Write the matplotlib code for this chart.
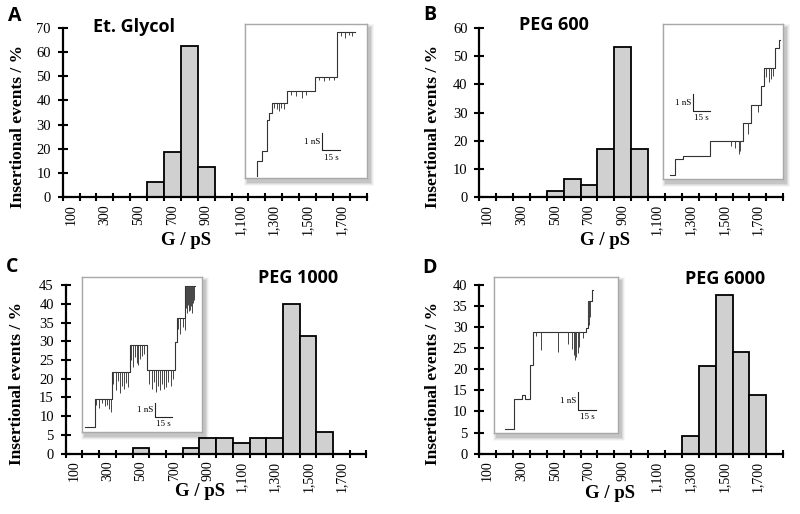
import numpy as np
import matplotlib
matplotlib.use('Agg')
import matplotlib.pyplot as plt
from matplotlib.patches import Rectangle

# conductance bins (pS)
g_bins = [100, 200, 300, 400, 500, 600, 700, 800, 900,
          1000, 1100, 1200, 1300, 1400, 1500, 1600, 1700, 1800]

# insertional events (%) per bin
events_glycol = [0, 0, 0, 0, 0, 6.3, 18.8, 62.5, 12.5,
                 0, 0, 0, 0, 0, 0, 0, 0, 0]
events_peg600 = [0, 0, 0, 0, 2.1, 6.4, 4.3, 17.0, 53.2,
                 17.0, 0, 0, 0, 0, 0, 0, 0, 0]
events_peg1000 = [0, 0, 0, 0, 1.4, 0, 0, 1.4, 4.3,
                  4.3, 2.9, 4.3, 4.3, 40.0, 31.4, 5.7, 0, 0]
events_peg6000 = [0, 0, 0, 0, 0, 0, 0, 0, 0,
                  0, 0, 0, 4.2, 20.8, 37.5, 24.0, 13.9, 0]

titles = ['Et. Glycol', 'PEG 600', 'PEG 1000', 'PEG 6000']
letters = ['A', 'B', 'C', 'D']
ymax = [70, 60, 45, 40]
ystep = [10, 10, 5, 5]

# inset traces, in % of the inset box: step times, levels, end time
trace_t_A = [10.1, 10.1, 13.7, 17.8, 20.0, 21.9, 34.2, 57.5, 75.9]
trace_y_A = [1.1, 10.8, 17.3, 37.8, 42.1, 48.6, 56.2, 65.9, 95.0]
trace_end_A = 90.4
spike_t_A = [24, 26, 28, 30, 32, 38, 42, 47, 50, 61, 65, 69, 73, 79, 82, 85, 88]
spike_d_A = [3, 4, 5, 3, 4, 2, 3, 4, 2, 2, 3, 2, 2, 3, 4, 2, 3]

trace_t_B = [5.6, 10.3, 17.0, 38.9, 66.7, 73.1, 81.4, 84.2, 93.6, 96.4]
trace_y_B = [2.8, 12.9, 14.6, 24.2, 36.1, 47.9, 59.7, 71.5, 84.3, 89.7]
trace_end_B = 97.5
spike_t_B = [57, 60, 63, 64.5, 71, 79, 86, 88, 90, 92]
spike_d_B = [3, 4, 8, 6, 7, 5, 6, 9, 7, 5]

trace_t_C = [2.8, 10.6, 25.0, 40.3, 54.2, 77.2, 79.2, 86.1]
trace_y_C = [3.2, 21.6, 38.9, 56.2, 40.0, 58.3, 73.5, 94.0]
trace_end_C = 94.4
spike_t_C = [12, 14, 17, 19, 21, 22.5, 24,
             26, 28, 30, 31.5, 33, 35, 37, 38.5,
             41, 42.5, 44, 45.5, 47, 48.5, 50, 52,
             56, 58, 60, 62, 63.5, 65, 66.5, 68, 70, 72, 74, 76,
             80, 82, 84, 85.5,
             87, 87.8, 88.6, 89.4, 90.2, 91, 91.8, 92.6, 93.4]
spike_d_C = [4, 6, 3, 5, 4, 7, 9,
             8, 12, 6, 14, 9, 11, 7, 10,
             10, 14, 8, 12, 13, 9, 7, 6,
             9, 12, 8, 14, 10, 13, 9, 12, 11, 8, 10, 6,
             7, 10, 6, 8,
             14, 17, 12, 16, 15, 13, 17, 11, 9]

trace_t_D = [8.8, 16.1, 22.3, 24.9, 29.0, 31.1, 74.5, 75.5, 79.4]
trace_y_D = [2.8, 22.1, 24.2, 22.1, 43.6, 65.0, 67.2, 84.3, 91.4]
trace_end_D = 80.0
spike_t_D = [34, 38, 52, 60, 63, 64.5, 65.5, 66.5, 67.5, 68.5, 72,
             76, 76.5, 77, 77.5]
spike_d_D = [3, 12, 13, 8, 11, 15, 18, 16, 14, 10, 4,
             14, 15, 12, 10]

# scale bars: x0, y0, x1, y1 (% of inset box)
scalebar_A = [63.6, 17.9, 78.1, 29.2]
scalebar_B = [25.0, 43.6, 38.9, 54.9]
scalebar_C = [60.6, 9.7, 75.0, 18.4]
scalebar_D = [67.8, 14.6, 82.0, 26.4]

plt.rcParams['font.family'] = 'Liberation Serif'

fig = plt.figure(figsize=(8, 5.14), dpi=100)

main_rects = [[0.0784, 0.6167, 0.38, 0.3288],
              [0.599, 0.6167, 0.38, 0.3288],
              [0.0821, 0.1173, 0.376, 0.3282],
              [0.599, 0.1173, 0.38, 0.3288]]
inset_rects = [[0.306, 0.6537, 0.1525, 0.2996],
               [0.8288, 0.6518, 0.15, 0.3016],
               [0.1025, 0.1595, 0.15, 0.3016],
               [0.6175, 0.1576, 0.155, 0.3035]]
title_xy = [(0.1675, 0.9475), (0.6925, 0.951), (0.372, 0.459), (0.906, 0.457)]
letter_xy = [(0.019, 0.968), (0.5375, 0.971), (0.015, 0.481), (0.5375, 0.478)]
ylabel_xy = [(0.022, 0.754), (0.5415, 0.754), (0.021, 0.253), (0.5415, 0.253)]
xlabel_xy = [(0.2325, 0.533), (0.756, 0.533), (0.25, 0.043), (0.7625, 0.039)]

all_events = [events_glycol, events_peg600, events_peg1000, events_peg6000]
traces = [(trace_t_A, trace_y_A, trace_end_A, spike_t_A, spike_d_A, scalebar_A),
          (trace_t_B, trace_y_B, trace_end_B, spike_t_B, spike_d_B, scalebar_B),
          (trace_t_C, trace_y_C, trace_end_C, spike_t_C, spike_d_C, scalebar_C),
          (trace_t_D, trace_y_D, trace_end_D, spike_t_D, spike_d_D, scalebar_D)]

xpos = np.arange(len(g_bins)) + 0.5

for k in range(4):
    ax = fig.add_axes(main_rects[k])
    vals = np.array(all_events[k])
    keep = vals > 0
    ax.bar(xpos[keep], vals[keep], width=1.0, color='#d0d0d0',
           edgecolor='black', linewidth=1.3, zorder=2)
    ax.set_xlim(0, len(g_bins))
    ax.set_ylim(0, ymax[k])
    for s in ['top', 'right']:
        ax.spines[s].set_visible(False)
    for s in ['left', 'bottom']:
        ax.spines[s].set_linewidth(1.6)
        ax.spines[s].set_zorder(3)
    ax.set_xticks(np.arange(len(g_bins) + 1))
    ax.set_xticklabels([])
    ax.set_xticks(xpos[::2], minor=True)
    ax.set_xticklabels([f'{g:,}' for g in g_bins[::2]], minor=True,
                       rotation=90, fontsize=10)
    ax.tick_params(axis='x', which='major', direction='inout',
                   length=6, width=1.5)
    ax.tick_params(axis='x', which='minor', length=0, pad=5)
    ax.set_yticks(np.arange(0, ymax[k] + 1, ystep[k]))
    ax.tick_params(axis='y', direction='inout', length=7, width=1.5,
                   labelsize=10.5, pad=5)
    for t in ax.get_xticklines() + ax.get_yticklines():
        t.set_clip_on(False)

    fig.text(ylabel_xy[k][0], ylabel_xy[k][1], 'Insertional events / %',
             rotation=90, ha='center', va='center', fontsize=12.5,
             fontweight='bold')
    fig.text(xlabel_xy[k][0], xlabel_xy[k][1], 'G / pS', ha='center',
             va='center', fontsize=13.5, fontweight='bold')
    fig.text(title_xy[k][0], title_xy[k][1], titles[k], ha='center',
             va='center', fontsize=13, fontweight='bold',
             family='Open Sans')
    fig.text(letter_xy[k][0], letter_xy[k][1], letters[k], ha='center',
             va='center', fontsize=14, fontweight='bold',
             family='Open Sans')

    # soft drop shadow behind the inset
    x0, y0, w, h = inset_rects[k]
    for i, a in enumerate([0.03, 0.05, 0.07, 0.09]):
        off = (4 - i) * 1.0
        fig.patches.append(Rectangle((x0 + 3 / 800 - off / 800, y0 - 4 / 514 - off / 514),
                                     w + 2 * off / 800, h + 2 * off / 514,
                                     transform=fig.transFigure, color='black',
                                     alpha=a, lw=0, zorder=5))

    ins = fig.add_axes(inset_rects[k], zorder=6)
    ins.set_xlim(0, 100)
    ins.set_ylim(0, 100)
    ins.set_xticks([])
    ins.set_yticks([])
    for s in ins.spines.values():
        s.set_edgecolor('#a8a8a8')
        s.set_linewidth(1.0)

    tt, yy, tend, sp_t, sp_d, bar = traces[k]
    ts = list(tt) + [tend]
    ys = list(yy) + [yy[-1]]
    ins.step(ts, ys, where='post', color='#333333', lw=0.8)
    sp_t = np.array(sp_t)
    idx = np.searchsorted(np.array(tt), sp_t, side='right') - 1
    base = np.array(yy)[idx]
    ins.vlines(sp_t, base - np.array(sp_d), base, color='#444444', lw=0.7)

    bx0, by0, bx1, by1 = bar
    ins.plot([bx0, bx0, bx1], [by1, by0, by0], color='#222222', lw=0.8)
    ins.text(bx0 - 1.5, (by0 + by1) / 2, '1 nS', ha='right', va='center',
             fontsize=6.5)
    ins.text((bx0 + bx1) / 2, by0 - 2, '15 s', ha='center', va='top',
             fontsize=6.5)

fig.savefig('out.png', dpi=100)
